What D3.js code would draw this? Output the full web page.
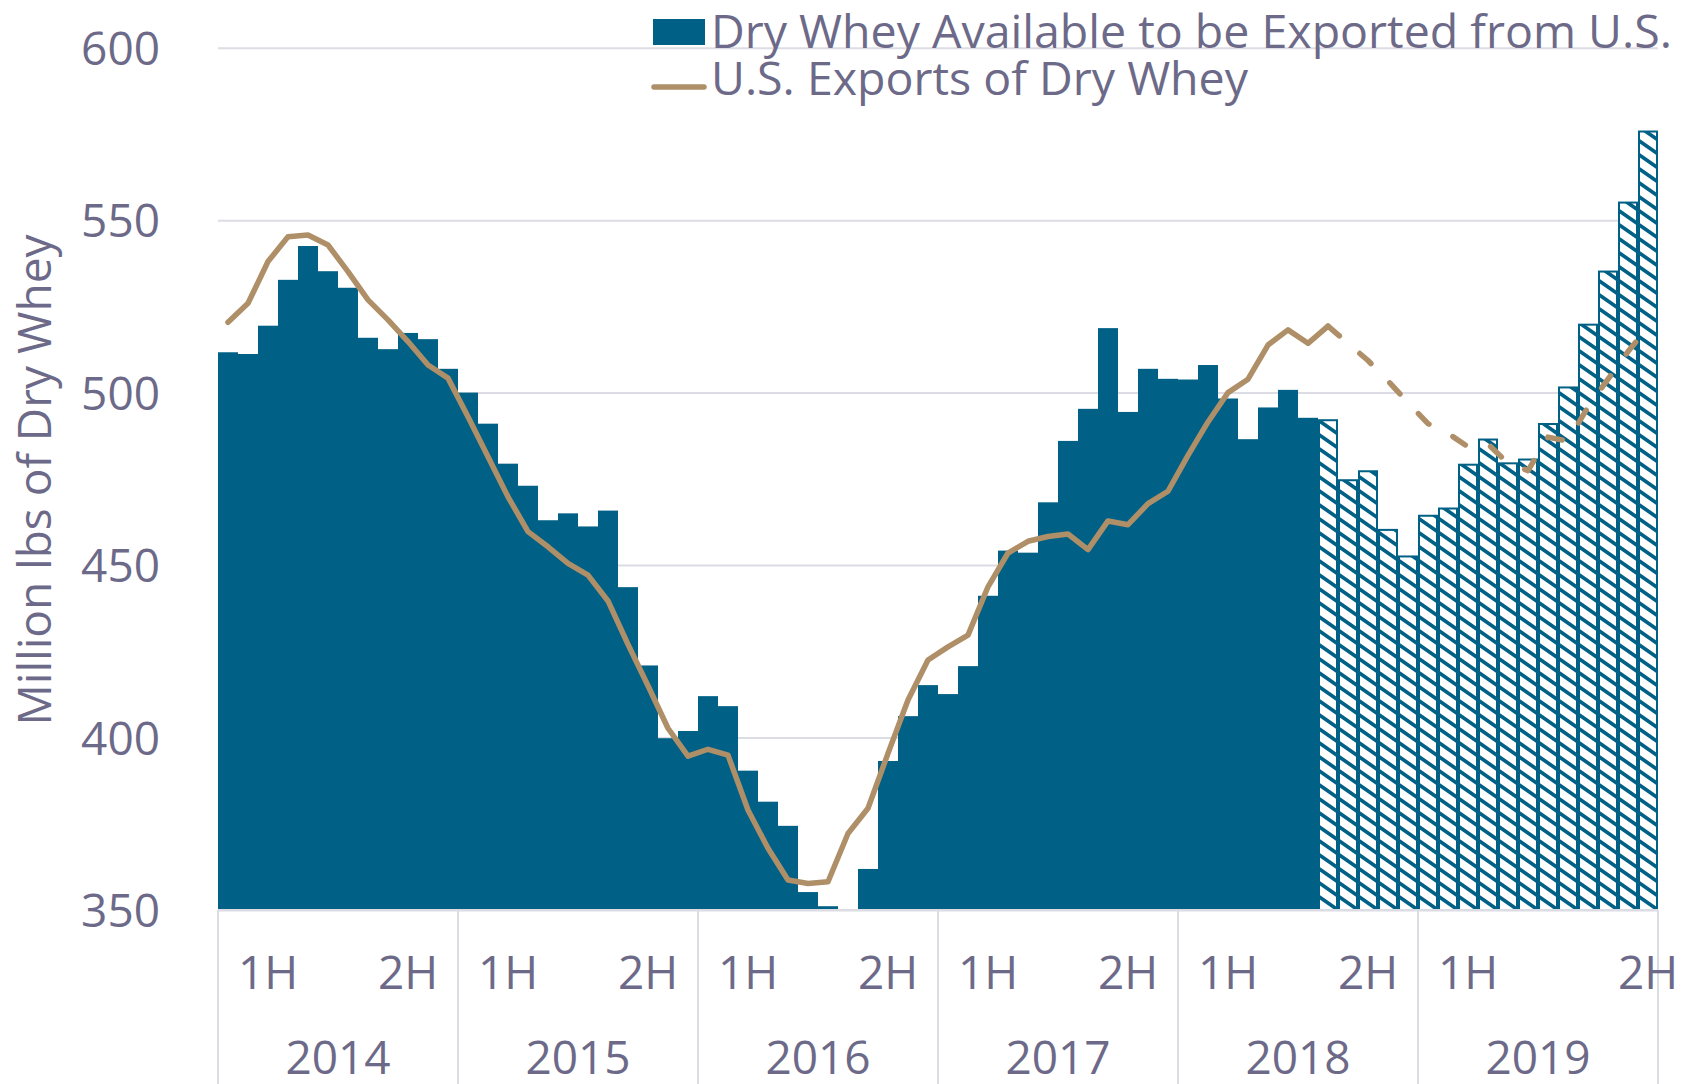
<!DOCTYPE html>
<html>
<head>
<meta charset="utf-8">
<script src="https://cdnjs.cloudflare.com/ajax/libs/d3/7.8.5/d3.min.js"></script>
<style>
  body { margin: 0; background: #fff; }
  text { font-family: "Open Sans", "Noto Sans", sans-serif; fill: #6c6a88; }
</style>
</head>
<body>
<div id="chart"></div>
<script>
// Dry whey available for export vs. U.S. exports, monthly Jan 2014 - Dec 2019 (million lbs)
const years = ["2014", "2015", "2016", "2017", "2018", "2019"];
const halfLabels = ["1H", "2H"];
// month index where each 1H / 2H label sits, in year order
const halfLabelMonths = [2, 9, 14, 21, 26, 33, 38, 45, 50, 57, 62, 71];

const available = [
    511.7, 511.2, 519.4, 532.7, 542.5, 535.2, 530.4, 515.9, 512.6, 517.3, 515.5, 506.9,
    500.0, 491.0, 479.4, 473.0, 463.0, 465.0, 461.2, 465.8, 443.6, 420.9, 399.8, 401.9,
    412.0, 409.1, 390.4, 381.4, 374.4, 355.2, 351.1, 348.0, 361.9, 393.2, 406.2, 415.2,
    412.6, 420.7, 441.1, 454.2, 453.6, 468.2, 486.0, 495.3, 518.7, 494.4, 506.9, 504.0,
    503.8, 508.0, 498.3, 486.5, 495.7, 500.8, 492.7, 492.0, 474.6, 477.2, 460.2, 452.5,
    464.3, 466.4, 479.1, 486.4, 479.5, 480.6, 490.9, 501.5, 519.7, 535.1, 555.1, 575.7
];

const exportsLbs = [
    520.4, 525.9, 538.0, 545.2, 545.7, 542.8, 535.1, 526.9, 521.1, 514.8, 508.0, 504.2,
    493.0, 481.4, 469.8, 459.7, 455.3, 450.5, 447.1, 439.6, 427.0, 415.0, 402.7, 394.6,
    396.6, 394.9, 379.0, 367.9, 358.7, 357.7, 358.2, 372.2, 379.5, 395.4, 410.9, 422.5,
    426.3, 429.7, 443.7, 453.5, 456.9, 458.3, 459.0, 454.5, 462.8, 461.7, 467.8, 471.4,
    481.8, 491.5, 500.0, 503.9, 513.8, 518.2, 514.3, 519.3, 514.3, 509.3, 503.4, 497.1,
    491.0, 488.2, 484.3, 485.1, 479.5, 477.4, 487.1, 485.9, 495.9, 503.9, 511.9, 519.0
];

// first month that is a projection (hatched bars, dashed line)
const projectionStart = 55;
const yTicks = [350, 400, 450, 500, 550, 600];

const barColor = "#006085";
const lineColor = "#af8f68";
const gridColor = "#dcdce4";

const W = 1694, H = 1084;
const margin = {top: 47.7, right: 36, bottom: 174, left: 218};

const svg = d3.select("#chart").append("svg")
    .attr("width", W)
    .attr("height", H);

const defs = svg.append("defs");
const hatch = defs.append("pattern")
    .attr("id", "hatch")
    .attr("patternUnits", "userSpaceOnUse")
    .attr("x", margin.left)
    .attr("y", 0)
    .attr("width", 20)
    .attr("height", 14);
hatch.append("rect").attr("width", 20).attr("height", 14).attr("fill", "#fff");
hatch.append("path")
    .attr("d", "M0,0L20,14M0,-14L20,0M0,14L20,28")
    .attr("stroke", barColor)
    .attr("stroke-width", 3.6);

const months = d3.range(available.length);

const x = d3.scaleBand()
    .domain(months)
    .range([margin.left, W - margin.right])
    .padding(0);

const y = d3.scaleLinear()
    .domain([350, 600])
    .range([H - margin.bottom, margin.top]);

// gridlines + value labels
const yAxis = svg.append("g")
    .attr("transform", "translate(" + margin.left + ",0)")
    .call(d3.axisLeft(y)
        .tickValues(yTicks)
        .tickSize(-(W - margin.right - margin.left))
        .tickPadding(58));
yAxis.select(".domain").remove();
yAxis.selectAll(".tick line")
    .attr("stroke", gridColor)
    .attr("stroke-width", 2);
yAxis.selectAll(".tick text")
    .attr("dy", "0.36em")
    .style("font-size", "46px")
    .style("fill", "#6c6a88");

// bars
svg.append("g")
    .selectAll("rect")
    .data(months)
    .join("rect")
    .attr("x", i => x(i) + (i >= projectionStart ? 1 : 0))
    .attr("width", i => x.bandwidth() - (i >= projectionStart ? 2 : 0))
    .attr("y", i => y(Math.max(available[i], 350)))
    .attr("height", i => y(350) - y(Math.max(available[i], 350)))
    .attr("fill", i => i >= projectionStart ? "url(#hatch)" : barColor)
    .attr("stroke", i => i >= projectionStart ? barColor : "none")
    .attr("stroke-width", 2);

// category axis
const axisY = y(350);
svg.append("line")
    .attr("x1", margin.left).attr("x2", W - margin.right)
    .attr("y1", axisY).attr("y2", axisY)
    .attr("stroke", gridColor)
    .attr("stroke-width", 2);

const bounds = years.map((d, k) => x(k * 12)).concat([W - margin.right]);
svg.append("g")
    .selectAll("line")
    .data(bounds)
    .join("line")
    .attr("x1", d => d).attr("x2", d => d)
    .attr("y1", axisY).attr("y2", H)
    .attr("stroke", gridColor)
    .attr("stroke-width", 2);

svg.append("g")
    .selectAll("text")
    .data(halfLabelMonths)
    .join("text")
    .attr("x", m => x(m) + x.bandwidth() / 2)
    .attr("y", 989)
    .attr("text-anchor", "middle")
    .style("font-size", "46px")
    .text((m, k) => halfLabels[k % 2]);

svg.append("g")
    .selectAll("text")
    .data(years)
    .join("text")
    .attr("x", (d, k) => (bounds[k] + bounds[k + 1]) / 2)
    .attr("y", 1074)
    .attr("text-anchor", "middle")
    .style("font-size", "46px")
    .text(d => d);

// exports line: solid for actuals, dashed for projection
const line = d3.line()
    .x(i => x(i) + x.bandwidth() / 2)
    .y(i => y(exportsLbs[i]));

svg.append("path")
    .datum(months.filter(i => i <= projectionStart))
    .attr("d", line)
    .attr("fill", "none")
    .attr("stroke", lineColor)
    .attr("stroke-width", 5.5)
    .attr("stroke-linejoin", "round")
    .attr("stroke-linecap", "round");

svg.append("path")
    .datum(months.filter(i => i >= projectionStart))
    .attr("d", line)
    .attr("fill", "none")
    .attr("stroke", lineColor)
    .attr("stroke-width", 5.5)
    .attr("stroke-dasharray", "15,27")
    .attr("stroke-linejoin", "round")
    .attr("stroke-linecap", "round");

// y title
svg.append("text")
    .attr("transform", "translate(51,480) rotate(-90)")
    .attr("text-anchor", "middle")
    .style("font-size", "46px")
    .text("Million lbs of Dry Whey");

// legend
const legend = svg.append("g");
legend.append("rect")
    .attr("x", 653).attr("y", 19)
    .attr("width", 52).attr("height", 26)
    .attr("fill", barColor);
legend.append("line")
    .attr("x1", 654).attr("x2", 704)
    .attr("y1", 87).attr("y2", 87)
    .attr("stroke", lineColor)
    .attr("stroke-width", 5.5)
    .attr("stroke-linecap", "round");
legend.append("text")
    .attr("x", 711).attr("y", 48)
    .style("font-size", "46.5px")
    .text("Dry Whey Available to be Exported from U.S.");
legend.append("text")
    .attr("x", 711).attr("y", 95)
    .style("font-size", "46.5px")
    .text("U.S. Exports of Dry Whey");
</script>
</body>
</html>
